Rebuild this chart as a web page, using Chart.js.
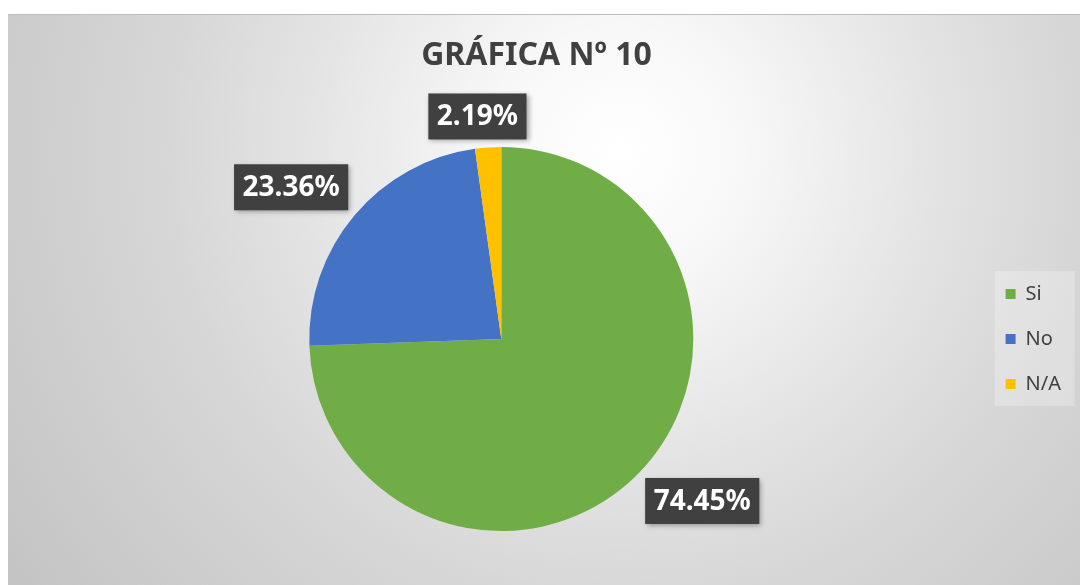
<!DOCTYPE html>
<html>
<head>
<meta charset="utf-8">
<script src="https://cdn.jsdelivr.net/npm/chart.js@4.4.1/dist/chart.umd.min.js"></script>
<style>
  html, body { margin: 0; padding: 0; background: #fff; }
  #wrap {
    position: absolute; left: 8px; top: 14px; width: 1072px; height: 571px;
    background: radial-gradient(circle at 612px 136px, #ffffff 0px, #f8f8f8 120px, #e3e3e3 320px, #d7d7d7 450px, #cdcdcd 600px, #c4c4c4 740px);
    box-shadow: inset 0 1px 0 #bdbdbd;
  }
  #pie-chart { position: absolute; left: 0; top: 14px; display: block; }
</style>
</head>
<body>
<div id="wrap"></div>
<canvas id="pie-chart" width="1080" height="571"></canvas>
<script>
// values (percent)
const categories = ["Si", "No", "N/A"];
const values = [74.45, 23.36, 2.19];
const sliceColors = ['#70AD47', '#4472C4', '#FFC000'];

// soft box behind the legend
const legendBg = {
  id: 'legendBg',
  beforeDraw(chart) {
    const lg = chart.legend;
    if (!lg || !lg.legendHitBoxes.length) return;
    const first = lg.legendHitBoxes[0];
    const ctx = chart.ctx;
    ctx.save();
    ctx.fillStyle = 'rgba(255,255,255,0.25)';
    ctx.fillRect(lg.left - 6, first.top - 13, 80, 135);
    ctx.restore();
  }
};

// dark percentage boxes outside each slice
const outsideLabels = {
  id: 'outsideLabels',
  afterDatasetsDraw(chart) {
    const ctx = chart.ctx;
    const meta = chart.getDatasetMeta(0);
    ctx.save();
    ctx.font = 'bold 28px "Noto Sans"';
    meta.data.forEach((arc, i) => {
      const p = arc.getProps(['x', 'y', 'startAngle', 'endAngle', 'outerRadius'], true);
      const mid = (p.startAngle + p.endAngle) / 2;
      const c = Math.cos(mid), s = Math.sin(mid);
      const ax = p.x + c * (p.outerRadius + 8);
      const ay = p.y + s * (p.outerRadius + 8);
      const txt = values[i].toFixed(2) + '%';
      const w = ctx.measureText(txt).width + 17;
      const h = 46;
      const clamp = v => Math.max(-1, Math.min(1, v));
      const cx = ax + w / 2 * clamp(c * 3);
      const cy = ay + h / 2 * clamp(s * 3);
      ctx.shadowColor = 'rgba(0,0,0,0.35)';
      ctx.shadowBlur = 5;
      ctx.shadowOffsetX = 2;
      ctx.shadowOffsetY = 2;
      ctx.fillStyle = '#404040';
      ctx.fillRect(cx - w / 2, cy - h / 2, w, h);
      ctx.shadowColor = 'transparent';
      ctx.fillStyle = '#ffffff';
      ctx.textAlign = 'center';
      ctx.textBaseline = 'middle';
      ctx.fillText(txt, cx, cy + 1);
    });
    ctx.restore();
  }
};

const ctx = document.getElementById('pie-chart').getContext('2d');
const pieChart = new Chart(ctx, {
  type: 'pie',
  data: {
    labels: categories,
    datasets: [{
      data: values,
      backgroundColor: sliceColors,
      borderWidth: 0
    }]
  },
  options: {
    responsive: false,
    animation: false,
    layout: { padding: { left: 2, right: 9, top: 0, bottom: 54 } },
    plugins: {
      title: {
        display: true,
        text: 'GRÁFICA Nº 10',
        color: '#404040',
        font: { family: '"Noto Sans"', size: 32, weight: 'bold' },
        padding: { top: 22.8, bottom: 71.8 }
      },
      legend: {
        position: 'right',
        fullSize: false,
        title: { display: true, text: '', padding: 0, font: { size: 10, lineHeight: 2 } },
        labels: {
          boxWidth: 10,
          boxHeight: 10,
          padding: 5,
          color: '#404040',
          font: { family: '"Noto Sans"', size: 20, lineHeight: 2 },
          // one-line arrays so each row gets the taller line height
          generateLabels(chart) {
            const items = Chart.overrides.pie.plugins.legend.labels.generateLabels(chart);
            return items.map(it => Object.assign(it, { text: [it.text] }));
          }
        }
      },
      tooltip: { enabled: false }
    }
  },
  plugins: [legendBg, outsideLabels]
});
</script>
</body>
</html>
